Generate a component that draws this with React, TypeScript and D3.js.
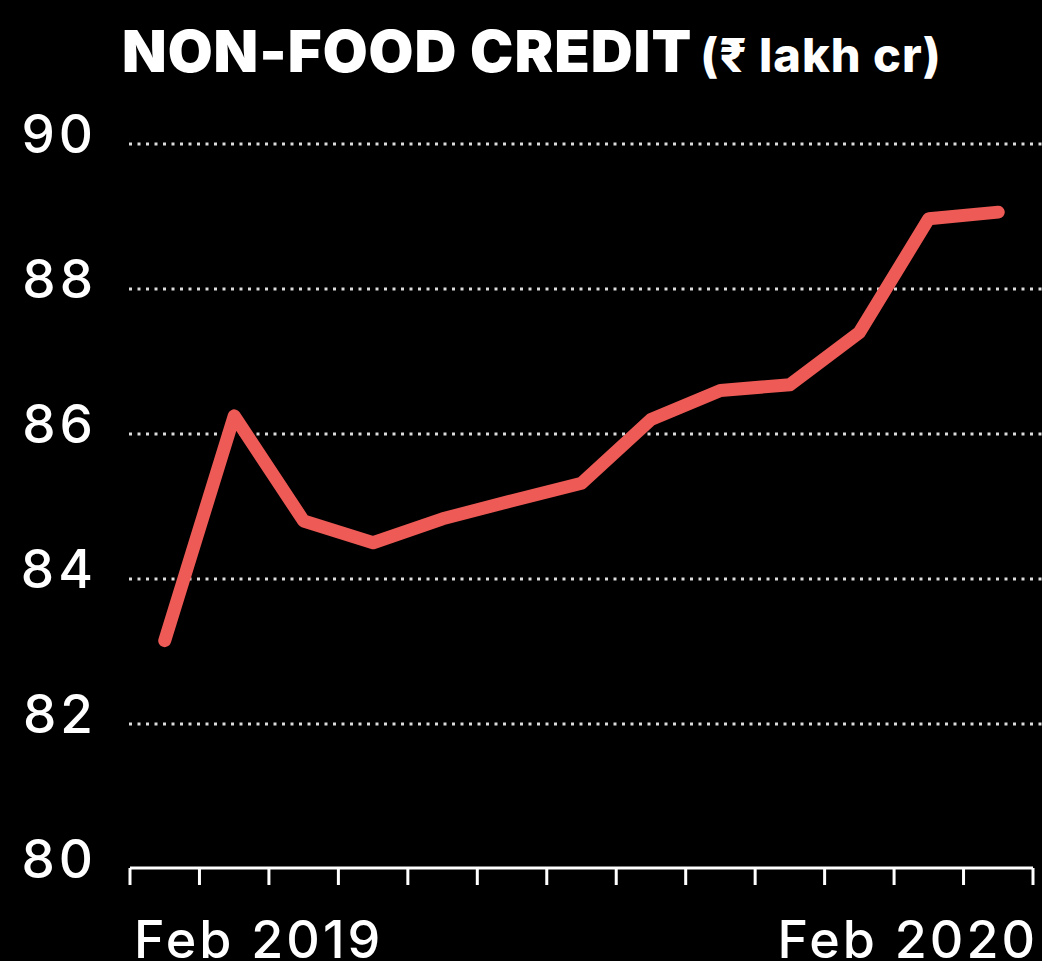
import { useEffect, useRef } from 'react'
import * as d3 from 'd3'

const months = [
  'Feb 2019', 'Mar 2019', 'Apr 2019', 'May 2019', 'Jun 2019', 'Jul 2019', 'Aug 2019',
  'Sep 2019', 'Oct 2019', 'Nov 2019', 'Dec 2019', 'Jan 2020', 'Feb 2020',
]
const credit = [83.15, 86.25, 84.8, 84.5, 84.83, 85.08, 85.32, 86.2, 86.6, 86.68, 87.4, 88.97, 89.06]
const yTicks = [80, 82, 84, 86, 88, 90]
const shownMonths = ['Feb 2019', 'Feb 2020']

const W = 1042
const H = 961
const FONT = 'Inter, Roboto, sans-serif'

export default function App() {
  const svgRef = useRef<SVGSVGElement>(null)

  useEffect(() => {
    if (!svgRef.current) return
    const svg = d3.select(svgRef.current)
    svg.selectAll('*').remove()

    const x = d3.scaleBand().domain(months).range([130, 1033]).paddingInner(0).paddingOuter(0)
    const y = d3.scaleLinear().domain([80, 90]).range([869, 144])

    svg.append('rect').attr('width', W).attr('height', H).attr('fill', '#000')

    // title
    const title = svg.append('text')
      .attr('x', 122).attr('y', 72)
      .attr('fill', '#fff')
      .attr('font-family', FONT)
    title.append('tspan').attr('font-size', 58).attr('font-weight', 900).attr('letter-spacing', 1).text('NON-FOOD CREDIT')
    title.append('tspan').attr('dx', 8).attr('font-size', 47).attr('font-weight', 800).attr('letter-spacing', 1).text('(₹ lakh cr)')

    // dotted grid lines
    svg.selectAll('.grid')
      .data(yTicks.filter(d => d > 80))
      .join('line')
      .attr('x1', 129).attr('x2', W)
      .attr('y1', d => y(d)).attr('y2', d => y(d))
      .attr('stroke', '#dcdcdc').attr('stroke-width', 3)
      .attr('stroke-dasharray', '3 5.5')

    // y labels
    svg.selectAll('.ylab')
      .data(yTicks)
      .join('text')
      .attr('x', 97).attr('y', d => y(d) + 9)
      .attr('text-anchor', 'end')
      .attr('fill', '#fff')
      .attr('font-family', FONT)
      .attr('font-size', 53)
      .attr('font-weight', 500)
      .attr('letter-spacing', 4)
      .text(d => d)

    // x axis
    const base = y(80) - 1
    svg.append('line')
      .attr('x1', 130).attr('x2', 1033)
      .attr('y1', base).attr('y2', base)
      .attr('stroke', '#fff').attr('stroke-width', 3)
    const tickPos = months.map(m => x(m) as number).concat([x.range()[1]])
    svg.selectAll('.tick')
      .data(tickPos)
      .join('line')
      .attr('x1', d => d).attr('x2', d => d)
      .attr('y1', base).attr('y2', base + 17)
      .attr('stroke', '#fff').attr('stroke-width', 3)

    svg.selectAll('.xlab')
      .data(shownMonths)
      .join('text')
      .attr('x', (d, i) => i === 0 ? 134 : 1038)
      .attr('y', 958)
      .attr('text-anchor', (d, i) => i === 0 ? 'start' : 'end')
      .attr('fill', '#fff')
      .attr('font-family', FONT)
      .attr('font-size', 52)
      .attr('font-weight', 500)
      .attr('letter-spacing', 3)
      .text(d => d)

    // line
    const line = d3.line<number>()
      .x((d, i) => (x(months[i]) as number) + x.bandwidth() / 2)
      .y(d => y(d))
    svg.append('path')
      .datum(credit)
      .attr('d', line)
      .attr('fill', 'none')
      .attr('stroke', '#ee5a55')
      .attr('stroke-width', 13)
      .attr('stroke-linecap', 'round')
      .attr('stroke-linejoin', 'round')
  }, [])

  return (
    <>
      <style>{'body{margin:0;background:#000}'}</style>
      <svg ref={svgRef} width={W} height={H} style={{ display: 'block' }} />
    </>
  )
}
